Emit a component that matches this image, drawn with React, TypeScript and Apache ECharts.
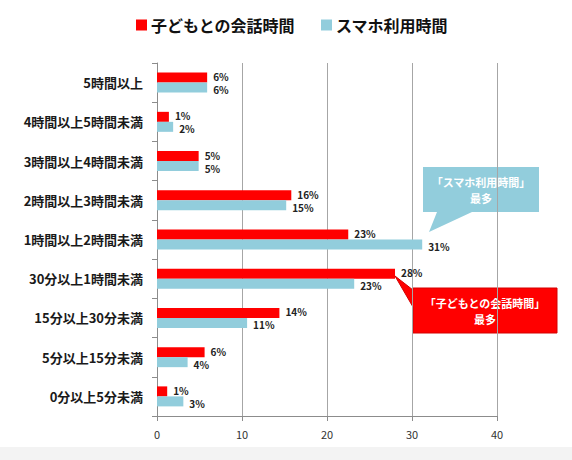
import React, { useEffect, useRef } from "react";
import * as echarts from "echarts";

// 平日1日あたりの「子どもとの会話時間」と「スマホ利用時間」の分布（%）
const categories = [
  "5時間以上",
  "4時間以上5時間未満",
  "3時間以上4時間未満",
  "2時間以上3時間未満",
  "1時間以上2時間未満",
  "30分以上1時間未満",
  "15分以上30分未満",
  "5分以上15分未満",
  "0分以上5分未満",
];
const talkTime = [5.9, 1.4, 4.9, 15.8, 22.5, 28.0, 14.4, 5.6, 1.2];
const phoneTime = [5.9, 1.9, 4.9, 15.2, 31.2, 23.2, 10.6, 3.6, 3.1];
const seriesNames = ["子どもとの会話時間", "スマホ利用時間"];
const xTicks = { min: 0, max: 40, interval: 10 };

const RED = "#ff0000";
const BLUE = "#92cddc";
const FONT = "'Noto Sans CJK JP', 'Noto Sans', sans-serif";

function valueLabel(offsetY: number) {
  return {
    show: true,
    position: "right",
    distance: 6,
    offset: [0, offsetY],
    color: "#222",
    fontSize: 10,
    lineHeight: 10,
    fontWeight: "bold",
    fontFamily: FONT,
    formatter: (p: any) => `${Math.round(p.value)}%`,
  };
}

function calloutText(text: string, x: number, y: number) {
  return {
    type: "text",
    silent: true,
    x,
    y,
    style: {
      text,
      fill: "#fff",
      fontSize: 11,
      fontWeight: "bold",
      fontFamily: FONT,
      align: "center",
      verticalAlign: "middle",
    },
  };
}

export default function App() {
  const ref = useRef<HTMLDivElement>(null);

  useEffect(() => {
    if (!ref.current) return;
    const chart = echarts.init(ref.current, null, { renderer: "svg" });

    chart.setOption({
      animation: false,
      backgroundColor: "#ffffff",
      textStyle: { fontFamily: FONT },
      legend: {
        left: 131,
        top: 12,
        itemWidth: 11,
        itemHeight: 11,
        itemGap: 26,
        icon: "rect",
        data: seriesNames,
        textStyle: {
          fontSize: 16,
          fontWeight: "bold",
          color: "#111",
          fontFamily: FONT,
          padding: [0, 0, 0, -1],
        },
      },
      grid: { left: 157, top: 63, width: 340, height: 353 },
      xAxis: {
        type: "value",
        min: xTicks.min,
        max: xTicks.max,
        interval: xTicks.interval,
        axisLine: { show: true, lineStyle: { color: "#8c8c8c", width: 1 } },
        axisTick: { show: true, length: 5, lineStyle: { color: "#8c8c8c" } },
        axisLabel: { color: "#333", fontSize: 11, margin: 12, fontFamily: FONT },
        splitLine: { show: true, lineStyle: { color: "#a6a6a6", width: 1 } },
      },
      yAxis: {
        type: "category",
        inverse: true,
        data: categories,
        axisLine: { show: true, lineStyle: { color: "#8c8c8c", width: 1 } },
        axisTick: { show: true, length: 5, lineStyle: { color: "#8c8c8c" } },
        axisLabel: {
          color: "#1a1a1a",
          fontSize: 13,
          fontWeight: "bold",
          margin: 14,
          fontFamily: FONT,
        },
      },
      series: [
        {
          name: seriesNames[0],
          type: "bar",
          data: talkTime,
          barWidth: 10,
          barGap: "0%",
          itemStyle: { color: RED },
          label: valueLabel(-1),
        },
        {
          name: seriesNames[1],
          type: "bar",
          data: phoneTime,
          barWidth: 10,
          barGap: "0%",
          itemStyle: { color: BLUE },
          label: valueLabel(2),
        },
      ],
      graphic: [
        {
          type: "rect",
          silent: true,
          z: -10,
          shape: { x: 0, y: 447, width: 572, height: 13 },
          style: { fill: "#f3f3f3" },
        },
        // 吹き出し：スマホ利用時間の最多
        {
          type: "polygon",
          silent: true,
          shape: {
            points: [
              [423, 167],
              [539, 167],
              [539, 212],
              [472, 212],
              [429, 232],
              [437, 212],
              [423, 212],
            ],
          },
          style: { fill: BLUE },
        },
        calloutText("「スマホ利用時間」", 481, 182),
        calloutText("最多", 481, 198),
        // 吹き出し：子どもとの会話時間の最多
        {
          type: "polygon",
          silent: true,
          shape: {
            points: [
              [413, 288],
              [557, 288],
              [557, 333],
              [413, 333],
              [413, 307],
              [395, 276],
              [413, 290],
            ],
          },
          style: { fill: RED, stroke: "#d40000", lineWidth: 1 },
        },
        calloutText("「子どもとの会話時間」", 485, 303),
        calloutText("最多", 485, 319),
      ],
    });

    return () => chart.dispose();
  }, []);

  return (
    <div
      ref={ref}
      style={{ position: "absolute", left: 0, top: 0, width: 572, height: 460 }}
    />
  );
}
